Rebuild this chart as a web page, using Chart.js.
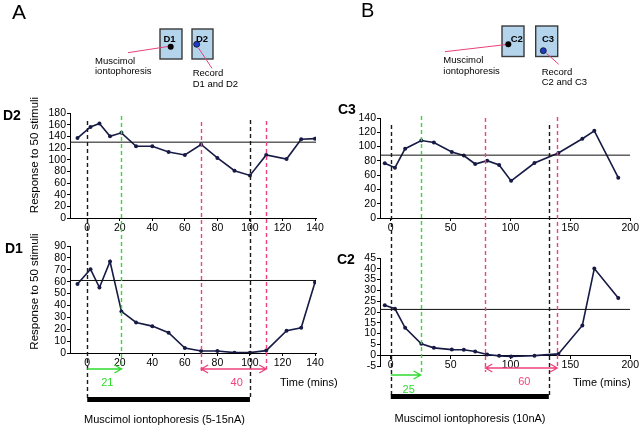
<!DOCTYPE html>
<html>
<head>
<meta charset="utf-8">
<script src="https://cdn.jsdelivr.net/npm/chart.js@4.4.0/dist/chart.umd.min.js"></script>
<style>
body { margin: 0; background: #fff; }
#wrap { position: relative; width: 640px; height: 428px; overflow: hidden; }
#wrap canvas, #wrap svg { position: absolute; left: 0; top: 0; }
</style>
</head>
<body>
<div id="wrap">
<canvas id="d2" width="640" height="428"></canvas>
<canvas id="d1" width="640" height="428"></canvas>
<canvas id="c3" width="640" height="428"></canvas>
<canvas id="c2" width="640" height="428"></canvas>
<svg width="640" height="428" font-family="Liberation Sans, Arial, sans-serif">
  <!-- panel A sketch -->
  <text x="12" y="18.5" font-size="21">A</text>
  <rect x="160" y="29" width="22" height="30" fill="#b4d4ec" stroke="#3a3a3a" stroke-width="1.4"/>
  <rect x="192" y="29" width="21" height="30" fill="#b4d4ec" stroke="#3a3a3a" stroke-width="1.4"/>
  <text x="163.5" y="41.5" font-size="9.5" font-weight="bold">D1</text>
  <text x="196" y="41.5" font-size="9.5" font-weight="bold">D2</text>
  <line x1="128" y1="52.7" x2="168" y2="46.5" stroke="#e8417a" stroke-width="1"/>
  <line x1="198.5" y1="48" x2="212" y2="68.3" stroke="#e8417a" stroke-width="1"/>
  <circle cx="170.7" cy="46.7" r="3" fill="#000"/>
  <circle cx="196.7" cy="44.3" r="3" fill="#1c3cc8" stroke="#111" stroke-width="0.8"/>
  <text x="95" y="63.5" font-size="9.5">Muscimol</text>
  <text x="95" y="74" font-size="9.5">iontophoresis</text>
  <text x="192.7" y="75.5" font-size="9.5">Record</text>
  <text x="192.7" y="86.5" font-size="9.5">D1 and D2</text>
  <!-- panel B sketch -->
  <text x="361" y="17" font-size="20">B</text>
  <rect x="502" y="26" width="22" height="30.5" fill="#b4d4ec" stroke="#3a3a3a" stroke-width="1.4"/>
  <rect x="535.7" y="26" width="22" height="30.5" fill="#b4d4ec" stroke="#3a3a3a" stroke-width="1.4"/>
  <text x="510.7" y="42" font-size="9.5" font-weight="bold">C2</text>
  <text x="542" y="42" font-size="9.5" font-weight="bold">C3</text>
  <line x1="445" y1="51.7" x2="506.5" y2="44.5" stroke="#e8417a" stroke-width="1"/>
  <line x1="546.5" y1="53.3" x2="558.7" y2="64.3" stroke="#e8417a" stroke-width="1"/>
  <circle cx="508.3" cy="44.3" r="3" fill="#000"/>
  <circle cx="543.3" cy="50.7" r="3" fill="#1c3cc8" stroke="#111" stroke-width="0.8"/>
  <text x="443.3" y="63" font-size="9.5">Muscimol</text>
  <text x="443.3" y="74" font-size="9.5">iontophoresis</text>
  <text x="541.7" y="74.5" font-size="9.5">Record</text>
  <text x="541.7" y="85" font-size="9.5">C2 and C3</text>
  <!-- panel names and axis captions -->
  <text x="3" y="120" font-size="14" font-weight="bold">D2</text>
  <text x="5" y="253" font-size="14" font-weight="bold">D1</text>
  <text x="338" y="113.5" font-size="14" font-weight="bold">C3</text>
  <text x="337" y="263.5" font-size="14" font-weight="bold">C2</text>
  <text transform="translate(37.5,155) rotate(-90)" text-anchor="middle" font-size="11.5">Response to 50 stimuli</text>
  <text transform="translate(37.5,291.5) rotate(-90)" text-anchor="middle" font-size="11.5">Response to 50 stimuli</text>
  <text x="280" y="386" font-size="11">Time (mins)</text>
  <text x="573" y="386" font-size="11">Time (mins)</text>
  <text x="164.5" y="423" text-anchor="middle" font-size="11">Muscimol iontophoresis (5-15nA)</text>
  <text x="470" y="422" text-anchor="middle" font-size="11">Muscimol iontophoresis (10nA)</text>
</svg>
</div>
<script>
// ---- data ----
var dTicks = [0, 20, 40, 60, 80, 100, 120, 140];
var cTicks = [0, 50, 100, 150, 200];

// panel A: D1 muscimol, recording D2 and D1
var dTimes = [-6, 2, 7.5, 14, 21, 30, 40, 50, 60, 70, 80, 90.5, 100, 110, 122.5, 131.5, 140];
var d2Resp = [137, 156, 162, 140, 146, 123, 123, 113, 108, 126, 103, 81, 73, 108, 101, 135, 136];
var d1Resp = [58, 70.5, 55, 77, 35, 25.7, 22.6, 17, 4.2, 1.7, 1.7, 0.3, 0.3, 2, 18.7, 21.2, 59.5];
var d2Base = 130;
var d1Base = 61;
var dOn = 0, dOff = 100, dGreen = 21;
var dPink = [70, 110];

// panel B: C2 muscimol, recording C3 and C2
var cTimes = [-5, 3.5, 12, 25.5, 36, 51, 61, 70.5, 80.5, 90.5, 100.5, 120, 140, 160, 170, 190];
var c3Resp = [76.6, 70.5, 97, 108.5, 105.7, 92.5, 87.4, 75.6, 80.3, 74.2, 52, 77, 91, 111, 122, 56.4];
var c2Resp = [23.1, 21.5, 12.7, 5.3, 3.4, 2.6, 2.5, 1.7, 0.3, -0.3, -0.6, -0.2, 0.6, 13.8, 40.1, 26.5];
var c3Base = 88;
var c2Base = 21.2;
var cOn = 0, cOff = 132, cGreen = 25;
var cPink = [79, 139];

var navy = '#161a45';
var green = '#2fdc2f';
var pink = '#f0427f';
var font = {family: '"Liberation Sans", Arial, sans-serif', size: 10.5};

// dashed event lines, arrows and the iontophoresis bar
var annot = {
  id: 'annot',
  afterDraw: function(chart, args, o) {
    if (!o || !o.lines) return;
    var ctx = chart.ctx, xs = chart.scales.x;
    ctx.save();
    ctx.lineWidth = 1.4;
    ctx.setLineDash([4, 3]);
    o.lines.forEach(function(l) {
      var px = Math.round(xs.getPixelForValue(l.v)) + 0.5;
      ctx.strokeStyle = l.color;
      ctx.beginPath();
      ctx.moveTo(px, l.top);
      ctx.lineTo(px, l.bottom);
      ctx.stroke();
    });
    ctx.setLineDash([]);
    ctx.lineWidth = 1.3;
    o.arrows.forEach(function(a) {
      var x1 = xs.getPixelForValue(a.from), x2 = xs.getPixelForValue(a.to);
      ctx.strokeStyle = a.color;
      ctx.beginPath();
      ctx.moveTo(x1, a.y); ctx.lineTo(x2, a.y);
      ctx.moveTo(x2 - 7, a.y - 4); ctx.lineTo(x2, a.y); ctx.lineTo(x2 - 7, a.y + 4);
      if (a.both) {
        ctx.moveTo(x1 + 7, a.y - 4); ctx.lineTo(x1, a.y); ctx.lineTo(x1 + 7, a.y + 4);
      }
      ctx.stroke();
      ctx.fillStyle = a.color;
      ctx.font = '11px "Liberation Sans", Arial, sans-serif';
      ctx.textAlign = 'center';
      ctx.textBaseline = 'middle';
      ctx.fillText(String(a.to - a.from), (x1 + x2) / 2 + 3, a.labelY);
    });
    var b = o.bar;
    var bx1 = xs.getPixelForValue(b.from), bx2 = xs.getPixelForValue(b.to);
    ctx.fillStyle = '#000';
    ctx.fillRect(bx1, b.y, bx2 - bx1, b.h);
    ctx.restore();
  }
};

function panel(id, times, resp, base, xMin, xMax, xTicks, yMin, yMax, yStep, pad, xPos, marks) {
  var pts = times.map(function(t, i) { return {x: t, y: resp[i]}; });
  return new Chart(document.getElementById(id), {
    type: 'line',
    data: {
      datasets: [
        {data: [{x: xMin, y: base}, {x: xMax, y: base}], borderColor: '#111', borderWidth: 1, pointRadius: 0},
        {data: pts, borderColor: navy, backgroundColor: navy, borderWidth: 1.6,
         pointRadius: 2, pointBorderWidth: 0, tension: 0}
      ]
    },
    options: {
      responsive: false,
      animation: false,
      events: [],
      layout: {padding: pad},
      plugins: {legend: {display: false}, tooltip: {enabled: false}, annot: marks || {}},
      scales: {
        x: {
          type: 'linear', min: xMin, max: xMax,
          position: xPos || 'bottom',
          afterBuildTicks: function(s) { s.ticks = xTicks.map(function(v) { return {value: v}; }); },
          afterFit: function(s) { s.height = xPos ? 0 : 16; },
          grid: {drawOnChartArea: false, color: '#000', tickLength: 3},
          border: {color: '#000'},
          ticks: {color: '#000', font: font, padding: 1, maxRotation: 0, autoSkip: false}
        },
        y: {
          min: yMin, max: yMax,
          afterFit: function(s) { s.width = 40; },
          grid: {drawOnChartArea: false, color: '#000', tickLength: 3},
          border: {color: '#000'},
          ticks: {color: '#000', font: font, padding: 1, stepSize: yStep, autoSkip: false}
        }
      }
    },
    plugins: [annot]
  });
}

panel('d2', dTimes, d2Resp, d2Base, -10.6, 140.6, dTicks, 0, 180, 20,
  {left: 30, right: 324, top: 113, bottom: 194});

panel('d1', dTimes, d1Resp, d1Base, -10.6, 140.6, dTicks, 0, 90, 10,
  {left: 30, right: 324, top: 246, bottom: 59}, null, {
    lines: [
      {v: dOn, color: '#1a1a1a', top: 121, bottom: 398},
      {v: dOff, color: '#1a1a1a', top: 120, bottom: 398},
      {v: dGreen, color: green, top: 116, bottom: 369},
      {v: dPink[0], color: pink, top: 122, bottom: 371},
      {v: dPink[1], color: pink, top: 121, bottom: 369}
    ],
    arrows: [
      {from: dOn, to: dGreen, y: 369, labelY: 383, color: green},
      {from: dPink[0], to: dPink[1], y: 369, labelY: 383, color: pink, both: true}
    ],
    bar: {from: dOn, to: dOff, y: 397, h: 5}
  });

panel('c3', cTimes, c3Resp, c3Base, -9, 200, cTicks, 0, 140, 20,
  {left: 340, right: 9, top: 118, bottom: 194});

panel('c2', cTimes, c2Resp, c2Base, -9, 200, cTicks, -5, 45, 5,
  {left: 340, right: 9, top: 258, bottom: 62}, {y: 0}, {
    lines: [
      {v: cOn, color: '#1a1a1a', top: 125, bottom: 395},
      {v: cOff, color: '#1a1a1a', top: 125, bottom: 395},
      {v: cGreen, color: green, top: 116, bottom: 375},
      {v: cPink[0], color: pink, top: 118, bottom: 372},
      {v: cPink[1], color: pink, top: 117, bottom: 368}
    ],
    arrows: [
      {from: cOn, to: cGreen, y: 375, labelY: 390, color: green},
      {from: cPink[0], to: cPink[1], y: 368, labelY: 382, color: pink, both: true}
    ],
    bar: {from: cOn, to: cOff, y: 394, h: 5}
  });
</script>
</body>
</html>
